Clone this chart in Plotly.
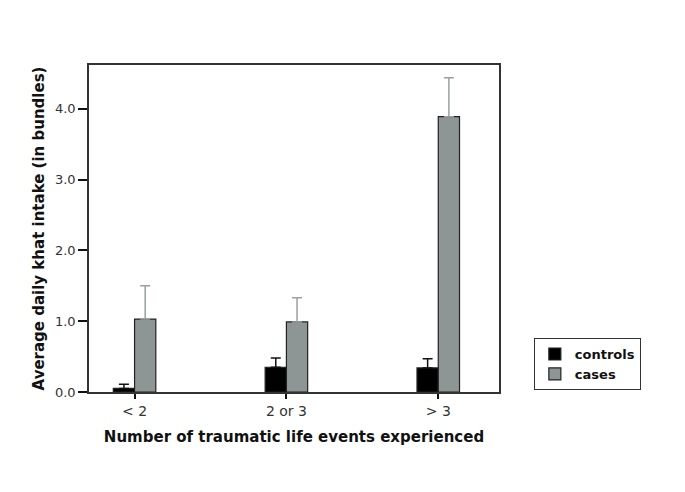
import plotly.graph_objects as go

categories = ["< 2", "2 or 3", "> 3"]
controls = [0.05, 0.35, 0.34]
controls_err = [0.06, 0.13, 0.13]
cases = [1.03, 0.99, 3.89]
cases_err = [0.47, 0.34, 0.55]
y_ticks = [0.0, 1.0, 2.0, 3.0, 4.0]
y_tick_labels = ["0.0", "1.0", "2.0", "3.0", "4.0"]

x = list(range(len(categories)))

fig = go.Figure()
fig.add_trace(go.Bar(
    x=x, y=controls, name="controls",
    marker=dict(color="#000000", line=dict(color="#222222", width=1.2)),
    error_y=dict(type="data", array=controls_err, arrayminus=[0]*3, symmetric=False,
                 color="#111111", thickness=1.5, width=5),
))
fig.add_trace(go.Bar(
    x=x, y=cases, name="cases",
    marker=dict(color="#8d9595", line=dict(color="#222222", width=1.2)),
    error_y=dict(type="data", array=cases_err, arrayminus=[0]*3, symmetric=False,
                 color="#9aa0a0", thickness=1.5, width=5),
))

fig.update_layout(
    width=685, height=492,
    margin=dict(l=81, r=194, t=57, b=108),
    paper_bgcolor="white", plot_bgcolor="white",
    barmode="group", bargap=0.72, bargroupgap=0,
    font=dict(family="DejaVu Sans", size=13, color="#333333"),
    showlegend=True,
    legend=dict(x=1.085, y=0.165, xanchor="left", yanchor="top",
                bordercolor="#333333", borderwidth=1, bgcolor="white",
                font=dict(family="DejaVu Sans", size=13, color="#111111", weight="bold"),
                itemwidth=30, tracegroupgap=0),
    xaxis=dict(range=[-0.30, 2.40], tickmode="array", tickvals=x, ticktext=categories,
               showline=True, linecolor="#333333", linewidth=1.5, mirror=True,
               ticks="outside", ticklen=5, tickwidth=2, tickcolor="#111111",
               tickfont=dict(size=14, color="#333333"),
               showgrid=False, zeroline=False,
               title=dict(text="Number of traumatic life events experienced",
                          font=dict(size=15, weight="bold", color="#111111"), standoff=14)),
    yaxis=dict(range=[0, 4.62], tickmode="array", tickvals=y_ticks, ticktext=y_tick_labels,
               showline=True, linecolor="#333333", linewidth=1.5, mirror=True,
               ticks="outside", ticklen=9, tickwidth=2, tickcolor="#111111",
               tickfont=dict(size=13, color="#333333"),
               showgrid=False, zeroline=False,
               title=dict(text="Average daily khat intake (in bundles)",
                          font=dict(size=15, weight="bold", color="#111111"), standoff=7)),
)

fig.write_html("out.html")
